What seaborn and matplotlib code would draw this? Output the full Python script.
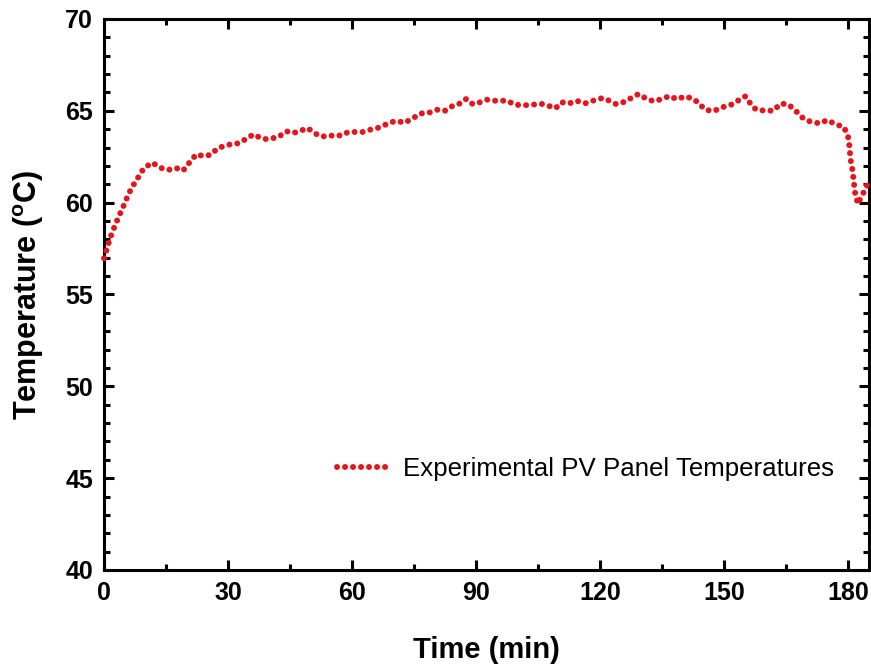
import numpy as np
import pandas as pd
import matplotlib
matplotlib.use("Agg")
import matplotlib.pyplot as plt
from matplotlib import font_manager
from matplotlib.ticker import MultipleLocator
import seaborn as sns

time_min = [0.0, 0.8, 1.6, 2.6, 3.7, 4.8, 5.6, 6.6, 8.1, 9.6, 11.7, 13.5, 15.5,
            17.4, 19.1, 20.5, 22.3, 24.2, 25.8, 27.6, 29.4, 31.1, 32.7, 34.3,
            36.2, 38.0, 39.6, 41.0, 42.1, 44.1, 45.7, 47.5, 49.1, 50.3, 52.0,
            54.2, 55.6, 57.3, 59.1, 60.8, 62.7, 64.5, 66.2, 67.9, 69.6, 71.0,
            72.6, 74.7, 76.4, 78.6, 80.9, 82.5, 84.4, 86.2, 87.6, 89.2, 91.0,
            92.6, 94.2, 96.0, 97.6, 99.2, 101.5, 103.9, 105.6, 107.4, 109.2,
            110.7, 112.4, 114.2, 116.4, 118.5, 120.6, 122.3, 123.9, 126.0,
            127.5, 129.3, 131.1, 133.0, 135.0, 136.8, 138.5, 140.6, 142.7,
            143.9, 145.4, 147.4, 149.4, 151.4, 153.2, 155.1, 156.4, 157.7,
            159.8, 161.9, 163.6, 165.4, 167.0, 169.0, 171.1, 173.2, 174.9,
            176.9, 178.9, 179.9, 180.3, 180.5, 181.0, 181.3, 181.6, 182.3,
            183.5, 184.7]
temperature = [56.97, 57.55, 58.15, 58.73, 59.31, 59.86, 60.29, 60.78, 61.31,
               61.87, 62.18, 61.91, 61.78, 61.89, 61.74, 62.14, 62.63, 62.53,
               62.61, 62.98, 63.10, 63.21, 63.23, 63.47, 63.72, 63.50, 63.45,
               63.52, 63.56, 63.89, 63.79, 63.90, 64.07, 63.90, 63.63, 63.59,
               63.69, 63.65, 63.85, 63.85, 63.85, 63.98, 64.07, 64.23, 64.39,
               64.45, 64.34, 64.59, 64.85, 64.90, 65.08, 65.01, 65.28, 65.41,
               65.65, 65.36, 65.47, 65.61, 65.55, 65.55, 65.55, 65.34, 65.30,
               65.34, 65.39, 65.28, 65.14, 65.47, 65.39, 65.55, 65.41, 65.57,
               65.70, 65.54, 65.36, 65.50, 65.70, 65.92, 65.66, 65.52, 65.65,
               65.81, 65.63, 65.79, 65.63, 65.39, 65.06, 64.98, 65.19, 65.30,
               65.54, 65.79, 65.37, 65.06, 65.01, 65.01, 65.39, 65.36, 65.06,
               64.61, 64.38, 64.32, 64.50, 64.27, 64.12, 63.65, 63.03, 62.40,
               61.78, 61.18, 60.57, 59.93, 60.47, 61.03]
series_label = "Experimental PV Panel Temperatures"
x_ticks = [0, 30, 60, 90, 120, 150, 180]
y_ticks = [40, 45, 50, 55, 60, 65, 70]

sns.set_theme(style="ticks")
available = {f.name for f in font_manager.fontManager.ttflist}
narrow = "Liberation Sans Narrow" if "Liberation Sans Narrow" in available else "Liberation Sans"
plt.rcParams["font.family"] = ["Liberation Sans", "DejaVu Sans"]
plt.rcParams["mathtext.default"] = "regular"
for k in ["text.color", "axes.labelcolor", "xtick.color", "ytick.color",
          "axes.edgecolor"]:
    plt.rcParams[k] = "black"

df = pd.DataFrame({"Time": time_min, "Temp": temperature})

fig = plt.figure(figsize=(8.71, 6.69), dpi=100)
ax = fig.add_axes([104 / 871, 1 - 570 / 669, 765 / 871, 551 / 669])

sns.lineplot(data=df, x="Time", y="Temp", ax=ax, estimator=None, sort=False,
             color="#e8141b", linewidth=4.3, linestyle=(0, (0.01, 1.33)),
             dash_capstyle="round", label=series_label, clip_on=False,
             zorder=3)

ax.set_xlim(0, 185)
ax.set_ylim(40, 70)
ax.set_xticks(x_ticks)
ax.set_yticks(y_ticks)
ax.xaxis.set_minor_locator(MultipleLocator(15))
ax.yaxis.set_minor_locator(MultipleLocator(1))
ax.tick_params(which="both", direction="in", top=True, right=True, width=2.2,
               color="black", labelcolor="black")
ax.tick_params(which="major", length=7.5, pad=8)
ax.tick_params(which="minor", length=4.5)
for s in ax.spines.values():
    s.set_linewidth(2.2)
    s.set_color("black")

for lab in ax.get_xticklabels() + ax.get_yticklabels():
    lab.set_fontfamily(narrow)
    lab.set_fontweight("bold")
    lab.set_fontsize(18)

ax.set_xlabel("Time (min)", fontfamily=narrow, fontweight="bold", fontsize=21,
              labelpad=22)
ax.set_ylabel("Temperature ($^{o}$C)", fontfamily=narrow, fontweight="bold",
              fontsize=22, labelpad=14)

leg = ax.legend(loc="lower right", bbox_to_anchor=(0.985, 0.12), frameon=False,
                fontsize=18.6, handlelength=1.95, handletextpad=0.62)

fig.savefig("out.png", dpi=100)
